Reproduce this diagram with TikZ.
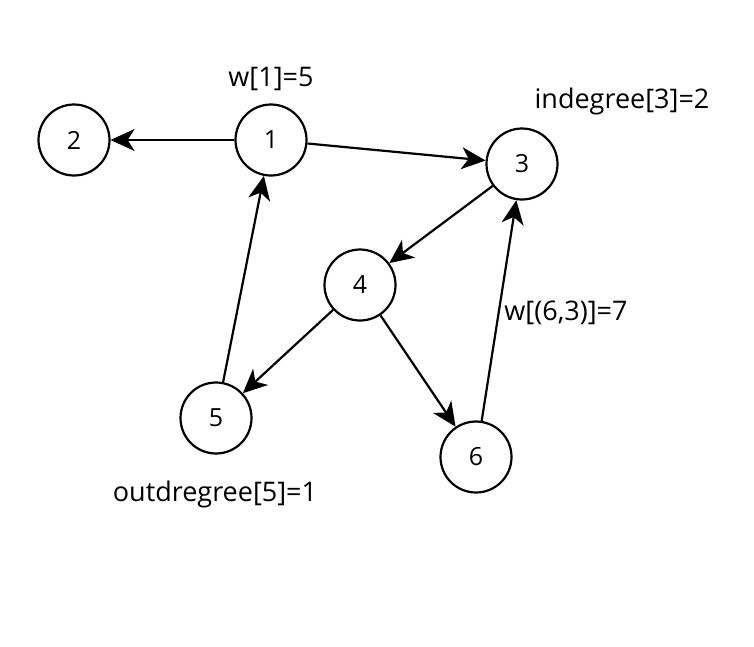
\documentclass[tikz,border=0pt]{standalone}
\usepackage{fontspec}
\setmainfont{Open Sans}
\usepackage{tikz}
\usetikzlibrary{arrows.meta, positioning}
\tikzstyle{link} = [line width=2.2pt,-{Stealth[length=24pt,width=22pt,inset=7pt]}]
\tikzstyle{vertex} = [circle, draw=black, line width=2.2pt, minimum size=71pt, inner sep=0pt, font=\fontsize{25}{28}\selectfont]
\tikzstyle{note} = [inner sep=0pt, font=\fontsize{27}{30}\selectfont]

\begin{document}
\begin{tikzpicture}[x=1pt, y=-1pt]
    \useasboundingbox (0,0) rectangle (754,646);
    % Vertices
    \node (n1) [vertex] at (271,140) {1};
    \node (n2) [vertex] at (74,140) {2};
    \node (n3) [vertex] at (522,164) {3};
    \node (n4) [vertex] at (360,285) {4};
    \node (n5) [vertex] at (216,418) {5};
    \node (n6) [vertex] at (476,457) {6};

    % Notes
    \node (w1) [note, above=12pt of n1] {w[1]=5};
    \node (in3) [note] at (622,101) {indegree[3]=2};
    \node (w63) [note] at (566,313) {w[(6,3)]=7};
    \node (out5) [note] at (215,494) {outdregree[5]=1};

    % Edges
    \draw [link] (n1) -- (n2);
    \draw [link] (n1) -- (n3);
    \draw [link] (n3) -- (n4);
    \draw [link] (n4) -- (n5);
    \draw [link] (n4) -- (n6);
    \draw [link] (n5) -- (n1);
    \draw [link] (n6) -- (n3);
\end{tikzpicture}
\end{document}
